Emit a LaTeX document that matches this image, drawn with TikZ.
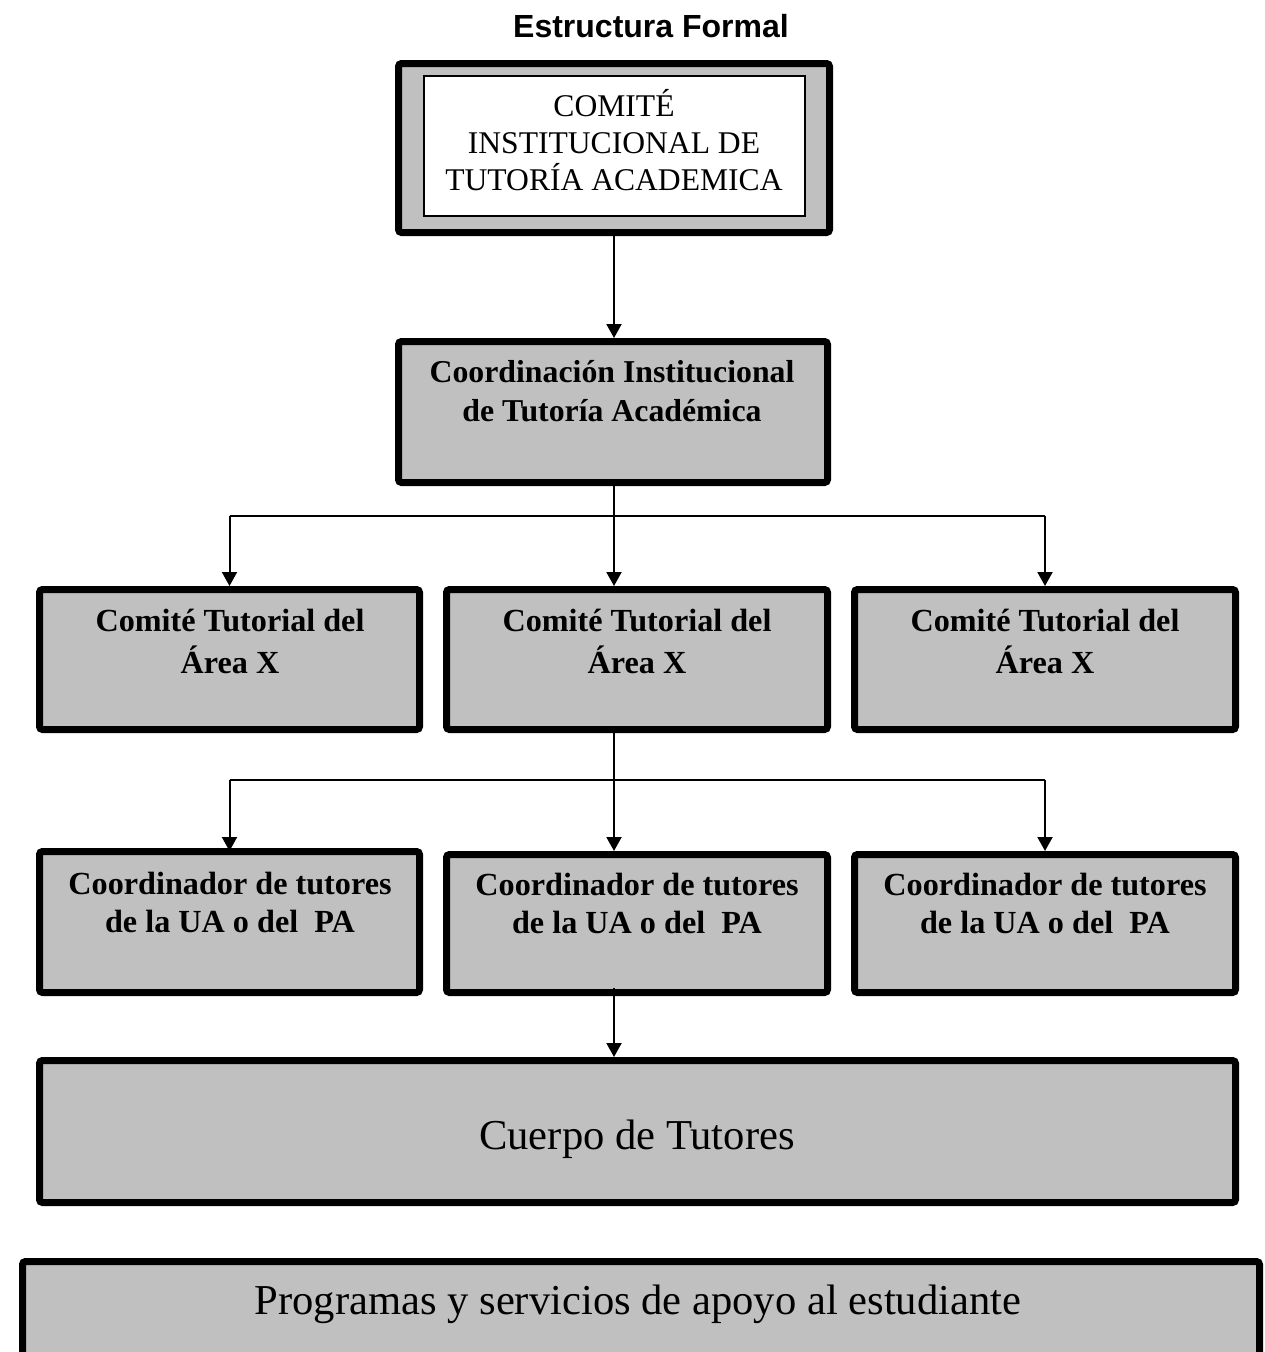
\documentclass[tikz,border=0pt]{standalone}
\usepackage{fontspec}
\setmainfont{Liberation Serif}
\newfontfamily\titlefont{Liberation Sans}
\usetikzlibrary{arrows.meta}
\definecolor{boxgray}{HTML}{C0C0C0}
\tikzset{
  thickbox/.style={draw=black, line width=7pt, fill=boxgray, rounded corners=3pt, inner sep=0pt},
  innerbox/.style={draw=black, line width=2pt, fill=white, inner sep=0pt},
  boxtext/.style={align=center, inner sep=0pt},
  conn/.style={line width=2pt, -{Triangle[length=14pt,width=15pt]}},
  plainconn/.style={line width=2pt}
}
\begin{document}
\begin{tikzpicture}[x=1pt,y=-1pt]
\clip (0,0) rectangle (1264,1352);
\fill[white] (0,0) rectangle (1264,1352);

\node[boxtext,font=\titlefont\bfseries\fontsize{32}{36}\selectfont] (title) at (651,26) {Estructura Formal};

% top committee
\node[thickbox, minimum width=431pt, minimum height=169pt] (top) at (614,148) {};
\node[innerbox, minimum width=381pt, minimum height=140pt] (topin) at (614.5,146) {};
\node[boxtext,font=\fontsize{31.6}{37}\selectfont] (toptext) at (614,140) {COMITÉ\\INSTITUCIONAL DE\\TUTORÍA ACADEMICA};

% coordination
\node[thickbox, minimum width=429pt, minimum height=141pt] (coord) at (613,412) {};
\node[boxtext,font=\bfseries\fontsize{31.8}{39}\selectfont] (coordtext) at (612,391.5) {Coordinación Institucional\\de Tutoría Académica};

% row 3
\node[thickbox, minimum width=380pt, minimum height=140pt] (l3) at (229.5,659.5) {};
\node[thickbox, minimum width=381pt, minimum height=140pt] (m3) at (637,659.5) {};
\node[thickbox, minimum width=381pt, minimum height=140pt] (r3) at (1045,659.5) {};
\node[boxtext,font=\bfseries\fontsize{32.2}{42}\selectfont] (l3text) at (230,641) {Comité Tutorial del\\Área X};
\node[boxtext,font=\bfseries\fontsize{32.2}{42}\selectfont] (m3text) at (637,641) {Comité Tutorial del\\Área X};
\node[boxtext,font=\bfseries\fontsize{32.2}{42}\selectfont] (r3text) at (1045,641) {Comité Tutorial del\\Área X};

% row 4
\node[thickbox, minimum width=380pt, minimum height=141pt] (l4) at (229.5,922) {};
\node[thickbox, minimum width=381pt, minimum height=138pt] (m4) at (637,923.5) {};
\node[thickbox, minimum width=381pt, minimum height=138pt] (r4) at (1045,923.5) {};
\node[boxtext,font=\bfseries\fontsize{32.2}{38}\selectfont] (l4text) at (230,902) {Coordinador de tutores\\de la UA o del \ PA};
\node[boxtext,font=\bfseries\fontsize{32.2}{38}\selectfont] (m4text) at (637,903.5) {Coordinador de tutores\\de la UA o del \ PA};
\node[boxtext,font=\bfseries\fontsize{32.2}{38}\selectfont] (r4text) at (1045,903.5) {Coordinador de tutores\\de la UA o del \ PA};

% cuerpo
\node[thickbox, minimum width=1196pt, minimum height=142pt] (cuerpo) at (637.5,1131.5) {};
\node[boxtext,font=\fontsize{42.6}{48}\selectfont] (cuerpotext) at (637,1139) {Cuerpo de Tutores};

% programas
\node[thickbox, minimum width=1237pt, minimum height=140pt] (prog) at (641,1331.5) {};
\node[boxtext,font=\fontsize{42.6}{48}\selectfont] (progtext) at (638,1304) {Programas y servicios de apoyo al estudiante};

% connectors
\draw[conn] (top.south) -- (top.south |- coord.north);
\coordinate (s2) at (614,486);
\coordinate (j1) at (614,516);
\draw[conn] (s2) -- (s2 |- m3.north);
\draw[plainconn] (l3.north |- j1) -- (r3.north |- j1);
\draw[conn] (l3.north |- j1) -- (l3.north);
\draw[conn] (r3.north |- j1) -- (r3.north);

\coordinate (s3) at (614,733);
\coordinate (j2) at (614,780);
\draw[conn] (s3) -- (s3 |- m4.north);
\draw[plainconn] (l4.north |- j2) -- (r4.north |- j2);
\draw[conn] (l4.north |- j2) -- (l4.north |- m4.north);
\draw[conn] (r4.north |- j2) -- (r4.north);

\coordinate (s4) at (614,988);
\draw[conn] (s4) -- (s4 |- cuerpo.north);
\end{tikzpicture}
\end{document}
